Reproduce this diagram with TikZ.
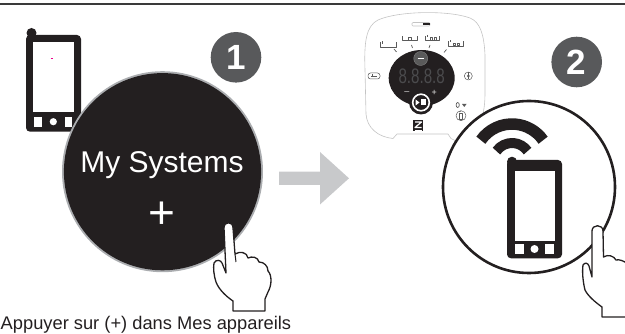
\documentclass[tikz,border=0pt]{standalone}
\usepackage{fontspec}
\setmainfont{Liberation Sans}
\definecolor{inkblack}{HTML}{231F20}
\definecolor{rulegray}{HTML}{3A3A3A}
\definecolor{badgegray}{HTML}{58595B}
\definecolor{arrowgray}{HTML}{C8C9CB}
\definecolor{ringgray}{HTML}{ABADB0}
\definecolor{panelgray}{HTML}{C4C4C4}
\definecolor{icongray}{HTML}{5A5A5A}
\definecolor{digitgray}{HTML}{4B4B4D}
\begin{document}
\begin{tikzpicture}[x=1pt,y=-1pt,line join=round,
  handshape/.style={fill=white,draw=inkblack,line width=1.3pt},
  badge/.style={circle,fill=badgegray,inner sep=0pt,minimum size=50.6pt,
    text=white,font=\bfseries\fontsize{35}{35}\selectfont},
  panelline/.style={draw=panelgray,line width=0.6pt},
  paneldetail/.style={draw=icongray,line width=0.5pt},
  wave/.style={draw=inkblack,line cap=butt}]
\useasboundingbox (0,0) rectangle (625,334);

% header rule
\draw[rulegray,line width=2.6pt] (0,4) -- (625,4);

% ---------- step 1 ----------
% phone behind the app button
\fill[inkblack,rounded corners=4pt] (26,35) rectangle (81,131.7);
\fill[inkblack] (31.5,33) circle (5);
\fill[white] (33.3,41.7) rectangle (74,111.7);
\fill[white] (34.3,116.7) rectangle (41.7,126.7);
\fill[white] (53.3,121.7) circle (3.6);
\fill[white] (65,116.7) rectangle (71.7,126.7);
\draw[magenta,line width=0.8pt] (50.5,58.3) -- (53,58.3);

% app button
\fill[ringgray] (162.5,171.7) circle (100.5);
\fill[inkblack] (162.5,171.7) circle (98.6);
\node[text=white,font=\fontsize{30}{30}\selectfont,anchor=base,inner sep=0pt]
  (title) at (162,173) {My Systems};
\node[text=white,font=\fontsize{46}{46}\selectfont,inner sep=0pt]
  (plus) at (162,215.5) {+};

% pointing hand
\draw[handshape] (226,273) -- (224,228)
  .. controls (224,221) and (233,221) .. (233,228) -- (235,254)
  .. controls (240,251) and (247,252) .. (248,258)
  .. controls (252,256) and (258,257) .. (259,262)
  .. controls (264,262) and (268,266) .. (268,271)
  .. controls (272,275) and (272,285) .. (268,292)
  -- (265,299) -- (265,311) -- (233,311) -- (233,301)
  .. controls (227,297) and (219,290) .. (216,282)
  .. controls (214,276) and (213,268) .. (214,263)
  .. controls (216,259) and (221,260) .. (222,263)
  -- cycle;
\draw[inkblack,line width=1pt] (235,254) -- (236,262);

\node[badge] (one) at (236,57.3) {1};

% transition arrow
\fill[arrowgray] (279,171.7) -- (320,171.7) -- (320,152) -- (349,178.3)
  -- (320,204.5) -- (320,185) -- (279,185) -- cycle;

% ---------- step 2 ----------
% control panel outline
\draw[panelline] (456,141) -- (451,138.5) -- (448,134) -- (397,134) -- (393,138.5)
  .. controls (378,137) and (367,128) .. (366,114) -- (365,70)
  .. controls (364,42) and (366,26) .. (378,20)
  .. controls (398,11) and (448,10) .. (470,18)
  .. controls (480,22) and (484,34) .. (485,55) -- (485,92)
  .. controls (485,104) and (484,112) .. (481,120) -- (476,134);

% status indicator and mode labels
\draw[panelline,rounded corners=1pt] (412,22.5) rectangle (430,26);
\fill[inkblack] (423,23) rectangle (429.5,25.5);
\draw[paneldetail] (380,42) -- (380,47) -- (396,47) -- (396,42);
\draw[paneldetail] (382,41.5) -- (382,44);
\draw[paneldetail] (402,36.5) -- (402,40.5) -- (417,40.5) -- (417,36.5);
\draw[paneldetail] (408,37.5) rectangle (411,40);
\draw[paneldetail] (425,36) -- (425,40.5) -- (439,40.5) -- (439,36);
\draw[paneldetail] (430,37.5) rectangle (432.5,40) (434,37.5) rectangle (436.5,40);
\draw[paneldetail] (427,35) -- (427,37);
\draw[paneldetail] (448,41.5) -- (448,46.5) -- (463,46.5) -- (463,41.5);
\draw[paneldetail] (453,43) rectangle (455.5,45.5) (457,43) rectangle (459.5,45.5);
\draw[paneldetail] (450,40.5) -- (450,42.5);
\draw[icongray,line width=0.7pt] (394,49) -- (396.5,52) (411.5,45) -- (412.5,48)
  (430,45) -- (429,48) (446.5,49.5) -- (444,52.5);

% display
\fill[inkblack] (421.7,78) ellipse [x radius=33,y radius=28];
\fill[icongray] (420.7,58.5) circle (7);
\draw[gray,line width=0.4pt] (420.7,58.5) circle (7);
\draw[white,line width=0.4pt] (417.5,58.5) -- (424,58.5);
\node[text=digitgray,font=\fontsize{21}{21}\selectfont,xscale=0.72,inner sep=0pt]
  (digits) at (421.7,76.5) {8.8.8.8};
\node[text=white!80!gray,font=\fontsize{9}{9}\selectfont,inner sep=0pt]
  (minus) at (407,93.5) {\textendash};
\node[text=white!80!gray,font=\fontsize{9}{9}\selectfont,inner sep=0pt]
  (plussmall) at (434.3,93) {+};
\fill[inkblack] (421,102.5) circle (12);
\draw[white,line width=1.6pt] (421,102.5) circle (8.3);
\fill[white] (415.5,99.5) -- (415.5,105.5) -- (419.5,102.5) -- cycle;
\fill[white] (420.5,99.5) rectangle (425.5,105.5);

% side buttons
\draw[paneldetail,rounded corners=2.5pt] (368,73) rectangle (380,79);
\draw[paneldetail] (371,76) -- (377,76) (372.5,74.5) -- (372.5,77.5);
\draw[paneldetail] (468.3,76) circle (4);
\fill[icongray] (468.3,76) circle (1.5);
\draw[paneldetail] (468.3,72.5) -- (468.3,79.5);

% connectivity icons
\draw[paneldetail,line width=0.7pt] (457.7,105) ellipse [x radius=1.6,y radius=2.5];
\fill[icongray] (462,104) -- (466.5,104) -- (464.3,107) -- cycle;
\draw[paneldetail] (461,115.7) circle (5);
\draw[paneldetail] (459.5,113.5) rectangle (462.5,119);
\draw[paneldetail] (459,112) -- (461,111);

% brand logo
\fill[inkblack] (413.3,120) rectangle (423.3,131.5);
\draw[white,line width=1.2pt] (415,122) -- (421.5,122) -- (415,127.5) -- (421.5,127.5);
\draw[white,line width=0.3pt] (414.5,130) -- (422,130);

% zoom circle with connected phone
\draw[inkblack,line width=2.6pt,fill=white] (529,187) circle (86);
\draw[wave,line width=11.5pt] ([shift={(215:38)}]512,162) arc[start angle=215,end angle=325,radius=38];
\draw[wave,line width=10pt] ([shift={(215:19)}]512,162) arc[start angle=215,end angle=325,radius=19];
\fill[inkblack,rounded corners=4pt] (507,160) rectangle (562,258.3);
\fill[inkblack] (512,161.7) circle (5);
\fill[white] (515,171) rectangle (555,241);
\fill[white] (515,244) rectangle (523.5,254);
\fill[white] (534.5,249) circle (4);
\fill[white] (545,244) rectangle (553.5,254);

% second pointing hand
\draw[handshape] (592,277) -- (592,231)
  .. controls (592,224) and (603,224) .. (603,231) -- (603.5,257)
  .. controls (608,254) and (614,256) .. (616,260)
  .. controls (619,259) and (624,261) .. (628,264)
  -- (628,317) -- (602,317) -- (602,307)
  .. controls (595,302) and (588,296) .. (585,290)
  .. controls (583,282) and (582,272) .. (583,265)
  .. controls (585,262) and (588,263) .. (589,266)
  -- cycle;

\node[badge] (two) at (576.7,62) {2};

% caption
\node[anchor=base west,inner sep=0pt,text=inkblack,font=\fontsize{18.3}{18.3}\selectfont]
  (caption) at (0.5,330) {Appuyer sur (+) dans Mes appareils};
\end{tikzpicture}
\end{document}
